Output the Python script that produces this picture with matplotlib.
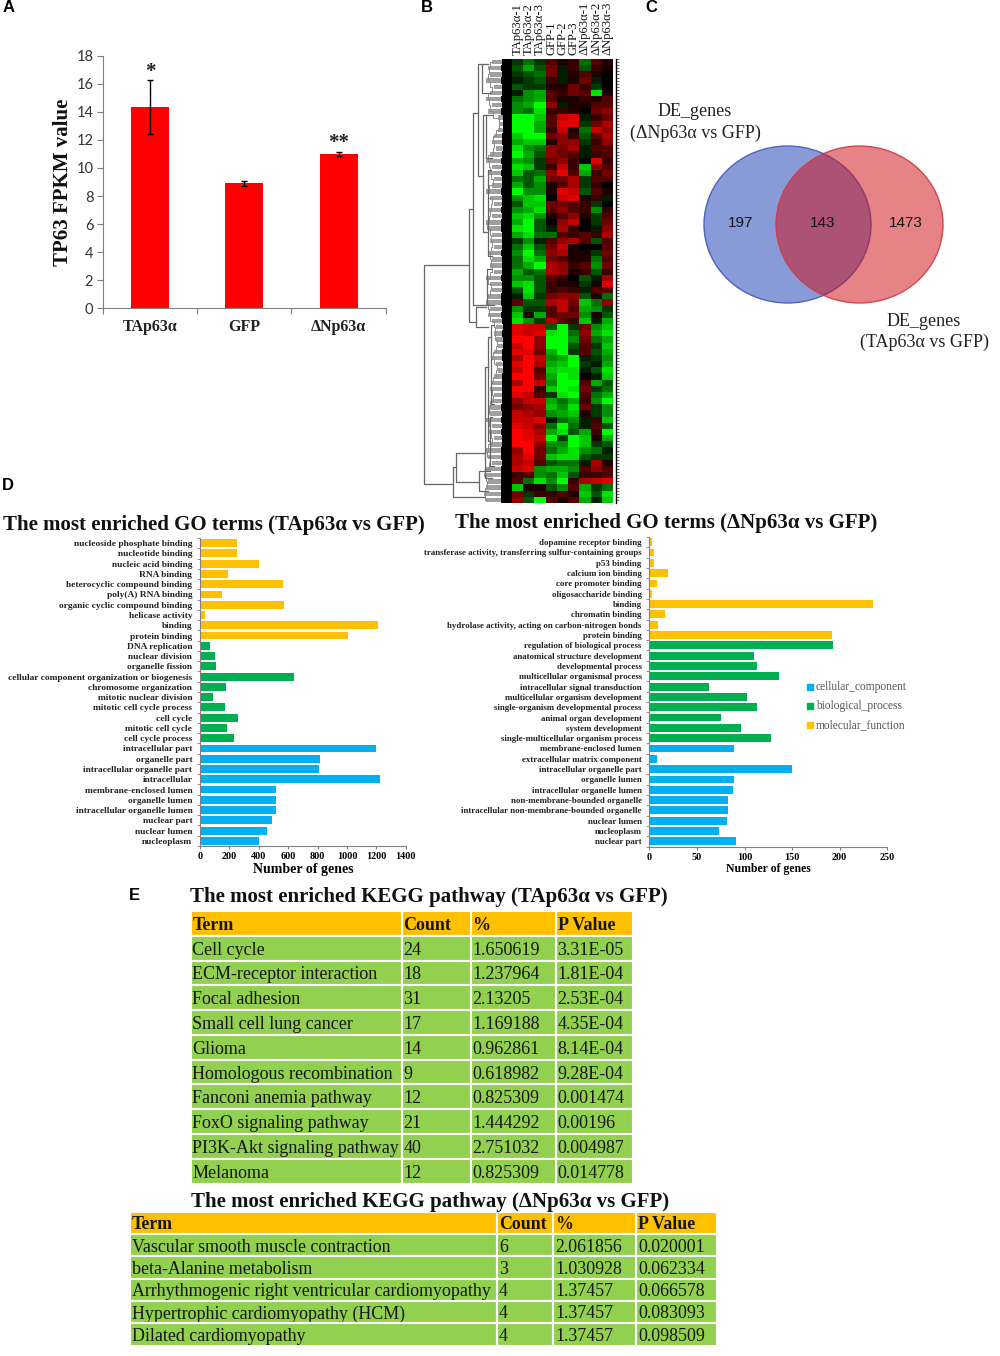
import matplotlib
matplotlib.use('Agg')
import numpy as np
import matplotlib.pyplot as plt
from matplotlib.colors import LinearSegmentedColormap
from matplotlib.patches import Ellipse

W, H = 1000, 1356
plt.rcParams['font.family'] = ['Liberation Serif', 'DejaVu Serif']

# Panel A
groups = ['TAp63α', 'GFP', 'ΔNp63α']
fpkm = [14.35, 8.9, 11.0]
fpkm_err = [1.9, 0.15, 0.15]
fpkm_stars = ['*', '', '**']

# Panel B, heatmap rows (sign: red +, green -)
heat_cols = ['TAp63α-1', 'TAp63α-2', 'TAp63α-3', 'GFP-1', 'GFP-2', 'GFP-3', 'ΔNp63α-1', 'ΔNp63α-2', 'ΔNp63α-3']
heat_up = [
    [-2, -4, -2, 3, 1, 2, -4, 3, 1], [-3, -6, -3, 4, -1, 2, -3, 2, 1], [-2, -3, -4, 4, -1, 1, 3, 1, 0],
    [-1, -2, -3, 2, -1, 1, 4, -1, 0], [-3, -2, -2, 1, 1, 4, 2, -2, 0], [-1, -5, -6, 3, 2, 4, 3, -8, 1],
    [-4, -5, -6, 3, 1, 1, 2, 1, 3], [-5, -6, -9, 5, -1, 1, 1, 3, 3], [-5, -4, -8, 2, 2, 1, 0, 4, 5],
    [-9, -9, -7, 3, 7, 8, -1, 2, 4], [-9, -9, -6, 3, 8, 8, -2, 4, 6], [-9, -9, -6, 2, 7, 1, -4, 7, 5],
    [-7, -9, -9, 4, 5, 2, -3, 3, 6], [-6, -7, -7, 1, 5, 5, -2, 2, 5], [-8, -5, -4, 5, 4, 6, -1, 3, 3],
    [-9, -6, -3, 5, 4, 3, -1, 2, 3], [-6, -5, -2, 4, 5, 2, 0, 8, 2], [-8, -7, -2, 2, 7, 2, -7, 5, 3],
    [-7, -3, -4, 5, 8, 3, -6, 2, 4], [-4, -3, -6, 4, 4, 6, -2, 3, 3], [-6, -3, -5, 1, 3, 6, -2, 2, 0],
    [-9, -5, -5, 1, 8, 7, -3, 3, 1], [-5, -7, -8, 0, 7, 8, 1, 2, -1], [-3, -7, -7, 4, 4, 3, 2, -2, 0],
    [-5, -6, -8, 3, 5, 3, 2, -5, 2], [-7, -8, -5, 1, 3, 5, 1, -2, 3], [-6, -9, -3, 0, 5, 7, 0, -2, 4],
    [-8, -9, -3, -1, 6, 2, 0, -1, 5], [-6, -8, -4, -4, 3, 2, 3, 2, 6], [-2, -5, -1, 3, 5, 6, 3, -3, 3],
    [-4, -7, -3, 4, 7, 1, 0, 0, 3], [-5, -9, -4, 5, 6, 1, 1, -2, 4], [-4, -8, -6, 4, 3, 1, 1, -4, 3],
    [-4, -6, -9, 6, 5, 2, 3, -5, 4], [-6, -3, -4, 6, 5, 1, 2, -3, 2], [-5, -5, -3, 3, 2, 0, -3, -1, 6],
    [-7, -8, -3, 2, 1, 1, -2, 1, 8], [-3, -8, -3, 2, 3, 2, -1, 3, 3], [-1, -7, -2, 4, 5, 5, -3, 1, -4],
    [3, -3, -3, 6, 7, 4, -7, -4, 5], [-5, -2, -2, 3, 7, 3, -6, -5, -2], [-7, 1, -6, 3, 4, 4, -5, 1, -3],
    [-8, -5, -2, 6, 3, 2, -7, -1, -6],
]
heat_down = [
    [8, 7, 7, -3, -9, -2, 4, -5, -7], [8, 7, 8, -8, -9, -4, 5, -6, -8], [9, 9, 5, -9, -9, -5, 4, -4, -6],
    [7, 9, 5, -9, -9, -3, 3, -2, -7], [8, 8, 4, -6, -9, -2, 3, -3, -6], [6, 9, 7, -5, -6, -9, -1, -2, -5],
    [8, 9, 6, -6, -7, -9, -2, -1, -6], [7, 9, 3, -7, -8, -8, -1, -3, -8], [9, 9, 4, -6, -9, -8, 0, -1, -7],
    [6, 9, 7, -5, -9, -9, 3, -6, -3], [9, 9, 2, -7, -9, -8, 4, -2, -4], [8, 7, 3, -2, -8, -9, 3, -4, -6],
    [5, 7, 7, -6, -4, -6, 2, -5, -9], [4, 5, 6, -7, -5, -8, 4, -2, -5], [7, 6, 5, -5, -6, -7, 1, -2, -5],
    [7, 7, 8, -1, -4, -5, -1, 2, -7], [8, 7, 5, -4, -9, -4, -1, 3, -3], [9, 8, 6, -6, -8, -3, -6, 2, -9],
    [9, 8, 7, -9, -2, -9, -7, 1, -6], [9, 9, 5, -5, -5, -9, -7, -2, -3], [5, 9, 4, -4, -6, -8, -5, -4, -1],
    [6, 8, 4, -7, -8, -8, -3, -2, -2], [6, 7, 3, -3, -4, -4, -1, 6, 1], [7, 8, -5, -6, -6, -5, 3, 5, 3],
    [2, 3, -5, -4, -7, -3, 2, 2, 3], [3, -4, -8, -5, -9, 2, 6, 7, 8], [-7, 1, 1, -3, -5, 3, -6, -2, -4],
    [4, -2, 2, 2, 3, 1, -7, -3, -8], [5, -3, -9, 3, 1, 3, -6, -1, -7],
]
# dendrogram: (height, row_top, row_bottom, child_height_top, child_height_bottom)
dendro_links = [
    (88, 33.4, 68.9, 43, 59), (43, 24.3, 42.6, 39, 36), (39, 8.7, 39.9, 34, 25),
    (34, 0.8, 19.0, 30, 29), (30, 0.8, 5.5, 24, 22), (29, 9.0, 28.0, 26, 24),
    (26, 9.0, 16.0, 20, 20), (24, 18.0, 32.0, 21, 20), (25, 34.0, 39.9, 21, 18),
    (36, 40.2, 43.5, 26, 24),
    (59, 66.1, 71.1, 56, 27), (56, 63.9, 68.6, 27, 33), (27, 50.0, 68.0, 24, 20),
    (24, 45.0, 62.0, 21, 22), (21, 43.2, 56.0, 18, 18), (22, 58.0, 66.0, 20, 18),
    (33, 66.8, 70.0, 22, 24),
]
leaf_depth = [20, 24, 22, 26, 18, 22, 26, 20, 24, 14, 12, 14, 18, 20, 16, 22, 26, 20, 24, 18, 20, 26, 22, 18, 24,
              20, 26, 24, 20, 22, 18, 24, 20, 22, 18, 26, 22, 20, 24, 26, 22, 24, 20, 16, 18, 16, 14, 18, 20, 16,
              14, 18, 20, 22, 18, 20, 24, 22, 26, 20, 24, 18, 22, 26, 24, 20, 26, 28, 24, 26, 28, 26]

# Panel C
venn_left = 197
venn_both = 143
venn_right = 1473

# Panel D
go_terms_ta = ['nucleoside phosphate binding', 'nucleotide binding', 'nucleic acid binding', 'RNA binding',
               'heterocyclic compound binding', 'poly(A) RNA binding', 'organic cyclic compound binding',
               'helicase activity', 'binding', 'protein binding', 'DNA replication', 'nuclear division',
               'organelle fission', 'cellular component organization or biogenesis', 'chromosome organization',
               'mitotic nuclear division', 'mitotic cell cycle process', 'cell cycle', 'mitotic cell cycle',
               'cell cycle process', 'intracellular part', 'organelle part', 'intracellular organelle part',
               'intracellular', 'membrane-enclosed lumen', 'organelle lumen', 'intracellular organelle lumen',
               'nuclear part', 'nuclear lumen', 'nucleoplasm']
go_counts_ta = [252, 252, 400, 189, 564, 148, 570, 36, 1211, 1009, 68, 105, 107, 641, 177, 91, 170, 261, 182, 230,
                1198, 816, 807, 1225, 518, 518, 516, 489, 455, 400]
go_terms_dn = ['dopamine receptor binding', 'transferase activity, transferring sulfur-containing groups',
               'p53 binding', 'calcium ion binding', 'core promoter binding', 'oligosaccharide binding', 'binding',
               'chromatin binding', 'hydrolase activity, acting on carbon-nitrogen bonds', 'protein binding',
               'regulation of biological process', 'anatomical structure development', 'developmental process',
               'multicellular organismal process', 'intracellular signal transduction',
               'multicellular organism development', 'single-organism developmental process',
               'animal organ development', 'system development', 'single-multicellular organism process',
               'membrane-enclosed lumen', 'extracellular matrix component', 'intracellular organelle part',
               'organelle lumen', 'intracellular organelle lumen', 'non-membrane-bounded organelle',
               'intracellular non-membrane-bounded organelle', 'nuclear lumen', 'nucleoplasm', 'nuclear part']
go_counts_dn = [3, 5, 5, 20, 8, 3, 235, 17, 9, 192, 193, 110, 113, 136, 63, 103, 113, 75, 96, 128,
                89, 8, 150, 89, 88, 83, 83, 82, 73, 91]
go_classes = ['molecular_function'] * 10 + ['biological_process'] * 10 + ['cellular_component'] * 10
go_colors = {'cellular_component': '#00B0F0', 'biological_process': '#00B050', 'molecular_function': '#FFC000'}

# Panel E
kegg_header = ['Term', 'Count', '%', 'P Value']
kegg_ta = [
    ['Cell cycle', '24', '1.650619', '3.31E-05'],
    ['ECM-receptor interaction', '18', '1.237964', '1.81E-04'],
    ['Focal adhesion', '31', '2.13205', '2.53E-04'],
    ['Small cell lung cancer', '17', '1.169188', '4.35E-04'],
    ['Glioma', '14', '0.962861', '8.14E-04'],
    ['Homologous recombination', '9', '0.618982', '9.28E-04'],
    ['Fanconi anemia pathway', '12', '0.825309', '0.001474'],
    ['FoxO signaling pathway', '21', '1.444292', '0.00196'],
    ['PI3K-Akt signaling pathway', '40', '2.751032', '0.004987'],
    ['Melanoma', '12', '0.825309', '0.014778'],
]
kegg_dn = [
    ['Vascular smooth muscle contraction', '6', '2.061856', '0.020001'],
    ['beta-Alanine metabolism', '3', '1.030928', '0.062334'],
    ['Arrhythmogenic right ventricular cardiomyopathy', '4', '1.37457', '0.066578'],
    ['Hypertrophic cardiomyopathy (HCM)', '4', '1.37457', '0.083093'],
    ['Dilated cardiomyopathy', '4', '1.37457', '0.098509'],
]


def px_axes(left, top, right, bottom):
    return fig.add_axes([left / W, 1 - bottom / H, (right - left) / W, (bottom - top) / H])


fig = plt.figure(figsize=(W / 100, H / 100), dpi=100, facecolor='white')

# page axes in pixels, used for free text and the venn; on top so the legend shows
page = fig.add_axes([0, 0, 1, 1], zorder=10)
page.set_xlim(0, W)
page.set_ylim(H, 0)
page.axis('off')

for letter, x, y in [('A', 3, 8), ('B', 421, 8), ('C', 645, 8), ('D', 2, 485), ('E', 129, 896)]:
    page.text(x, y, letter, family='Liberation Sans', weight='bold', fontsize=12, va='center')

# A: bars
ax = px_axes(103, 55.7, 385.7, 308.3)
centers = np.arange(3) + 0.5
ax.bar(centers, fpkm, width=0.404, color='#FF0000', yerr=fpkm_err, ecolor='black',
       error_kw=dict(elinewidth=1, capsize=2.2, capthick=1))
for c, v, e, s in zip(centers, fpkm, fpkm_err, fpkm_stars):
    ax.text(c, v + e - 0.1, s, ha='center', va='bottom', fontsize=15, weight='bold', color='#222222')
ax.set_xlim(0, 3)
ax.set_ylim(0, 18)
ax.set_yticks(range(0, 19, 2))
ax.set_xticks([0, 1, 2, 3])
ax.set_xticklabels([])
ax.tick_params(axis='y', labelsize=10.5, labelcolor='#333333', color='#808080', length=4, pad=3)
ax.tick_params(axis='x', color='#808080', length=4)
for lab in ax.get_yticklabels():
    lab.set_family('Lato')
for c, g in zip(centers, groups):
    ax.text(c, -1.3, g, ha='center', va='center', fontsize=11.5, weight='bold', color='#222222')
ax.set_ylabel('TP63 FPKM value', fontsize=15, weight='bold', labelpad=2, color='#111111')
ax.spines[['top', 'right']].set_visible(False)
ax.spines[['left', 'bottom']].set_color('#808080')

# B: heatmap
heat = np.array(heat_up + heat_down)
n_rows = heat.shape[0]
green_black_red = LinearSegmentedColormap.from_list('gbr', ['#00FF00', '#000000', '#FF0000'])
ax = px_axes(512, 59, 613, 503)
ax.imshow(heat, aspect='auto', cmap=green_black_red, vmin=-9, vmax=9, interpolation='nearest')
ax.set_xticks(np.arange(9))
ax.set_xticklabels(heat_cols, rotation=90, fontsize=9.1, color='#111111')
ax.xaxis.tick_top()
ax.tick_params(axis='x', length=0, pad=3)
ax.set_yticks([])
for s in ax.spines.values():
    s.set_visible(False)

# gene labels on the right are just specks
ax = px_axes(615, 59, 616, 503)
ax.set_ylim(n_rows, 0)
ax.set_xticks([])
ax.yaxis.tick_right()
ax.set_yticks(np.arange(0, n_rows, 0.5))
ax.set_yticklabels([])
ax.tick_params(axis='y', length=2.5, width=0.5, color='#333333')
ax.spines[['top', 'bottom', 'left']].set_visible(False)
ax.spines['right'].set_linewidth(1)

# dendrogram
ax = px_axes(421, 59, 512, 503)
ax.set_xlim(91, 0)
ax.set_ylim(n_rows, 0)
ax.axis('off')
rows = np.arange(n_rows) + 0.5
depth = np.array(leaf_depth)
ax.barh(rows, depth, height=0.7, color='#a0a0a0')
ax.barh(rows, 7 + 0.15 * depth, height=1.02, color='black')
ax.step(depth, rows, where='mid', color='#8c8c8c', lw=0.7)
for h, r1, r2, h1, h2 in dendro_links:
    ax.plot([h1, h, h, h2], [r1, r1, r2, r2], color='#666666', lw=0.9)

# C: venn
page.add_patch(Ellipse((787.5, 224.5), 167, 157, fc=(136 / 255, 154 / 255, 215 / 255), ec=(80 / 255, 100 / 255, 190 / 255), lw=1))
page.add_patch(Ellipse((859.5, 224.5), 167, 157, fc=(206 / 255, 17 / 255, 25 / 255, 0.52), ec=(205 / 255, 60 / 255, 70 / 255, 0.9), lw=1))
for x, n in [(741, venn_left), (823, venn_both), (906, venn_right)]:
    page.text(x, 223, str(n), family='Liberation Sans', fontsize=11, ha='center', va='center', color='#111111')
page.text(695, 112, 'DE_genes', fontsize=13, ha='center', va='center', color='#222222')
page.text(695, 133, '(ΔNp63α vs GFP)', fontsize=13, ha='center', va='center', color='#222222')
page.text(924, 321, 'DE_genes', fontsize=13, ha='center', va='center', color='#222222')
page.text(924, 342, '(TAp63α vs GFP)', fontsize=13, ha='center', va='center', color='#222222')


# D: GO bars
def go_panel(box, terms, counts, xmax, step, label_size, xlabel_size):
    ax = px_axes(*box)
    y = np.arange(len(terms)) + 0.5
    ax.barh(y, counts, height=0.76, color=[go_colors[c] for c in go_classes])
    ax.set_xlim(0, xmax)
    ax.set_ylim(len(terms), 0)
    ax.set_yticks(y)
    ax.set_yticklabels(terms, fontsize=label_size, weight='bold', color='#222222')
    ax.set_yticks(np.arange(len(terms) + 1), minor=True)
    ax.tick_params(axis='y', which='major', length=0, pad=5.5)
    ax.tick_params(axis='y', which='minor', length=2, color='#808080')
    ax.set_xticks(range(0, xmax + 1, step))
    ax.tick_params(axis='x', labelsize=7.3, color='#808080', length=2.5, pad=2)
    for lab in ax.get_xticklabels():
        lab.set_weight('bold')
    ax.set_xlabel('Number of genes', fontsize=xlabel_size, weight='bold', labelpad=1)
    ax.spines[['top', 'right']].set_visible(False)
    ax.spines[['left', 'bottom']].set_color('#808080')
    return ax


go_panel((200, 538, 405.7, 846), go_terms_ta, go_counts_ta, 1400, 200, 6.75, 10)
go_panel((649.3, 537, 887.3, 846.5), go_terms_dn, go_counts_dn, 250, 50, 6.4, 8.5)
page.text(3, 525, 'The most enriched GO terms (TAp63α vs GFP)', fontsize=15, weight='bold', va='center', color='#111111')
page.text(455, 523, 'The most enriched GO terms (ΔNp63α vs GFP)', fontsize=15, weight='bold', va='center', color='#111111')

for name, y in [('cellular_component', 686.7), ('biological_process', 706), ('molecular_function', 725)]:
    page.scatter([810], [y], marker='s', s=22, color=go_colors[name])
    page.text(816, y, name, fontsize=8.3, va='center', color='#555555')


# E: KEGG tables
def kegg_table(box, rows_in, col_px, fontsize):
    ax = px_axes(*box)
    ax.axis('off')
    total = box[2] - box[0]
    widths = [c / total for c in col_px]
    tab = ax.table(cellText=[kegg_header] + rows_in, colWidths=widths, bbox=[0, 0, 1, 1], cellLoc='left')
    tab.auto_set_font_size(False)
    tab.set_fontsize(fontsize)
    for (r, c), cell in tab.get_celld().items():
        cell.set_edgecolor('white')
        cell.set_linewidth(1.5)
        cell.PAD = 2 / col_px[c]
        cell.get_text().set_color('#151515')
        if r == 0:
            cell.set_facecolor('#FFC000')
            cell.get_text().set_fontweight('bold')
        else:
            cell.set_facecolor('#92D050')
            if c > 0:
                cell._loc = 'right'
        cell.get_text().set_va('center_baseline')


kegg_table((190.5, 911, 632.5, 1183.5), kegg_ta, [211, 69, 85, 77], 13)
kegg_table((130, 1211.5, 716.5, 1345.5), kegg_dn, [367, 56, 83, 80.5], 12.9)
page.text(190, 897, 'The most enriched KEGG pathway (TAp63α vs GFP)', fontsize=15, weight='bold', va='center', color='#111111')
page.text(191, 1202, 'The most enriched KEGG pathway (ΔNp63α vs GFP)', fontsize=15, weight='bold', va='center', color='#111111')

fig.savefig('out.png', dpi=100)
